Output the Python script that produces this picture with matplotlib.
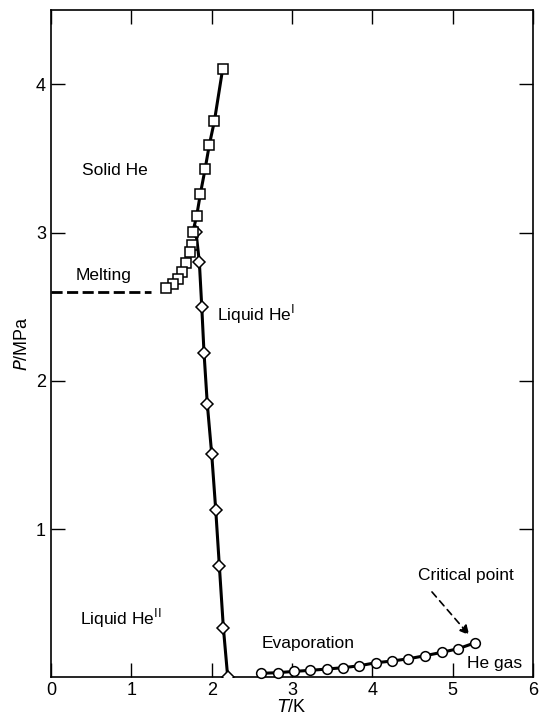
import matplotlib
matplotlib.use("Agg")
import matplotlib.pyplot as plt

plt.rcParams['font.family'] = ['Liberation Sans', 'DejaVu Sans']

# melting curve (squares), upper solid branch
melt_T = [2.138, 2.034, 1.971, 1.918, 1.859, 1.814, 1.765]
melt_P = [4.106, 3.751, 3.591, 3.427, 3.259, 3.113, 3.001]
# melting curve, lower branch (no line)
melt_low_T = [1.760, 1.731, 1.677, 1.635, 1.578, 1.523, 1.428]
melt_low_P = [2.913, 2.866, 2.796, 2.735, 2.686, 2.652, 2.623]
# dashed extrapolation of melting
dash_T = [0.0, 1.25]
dash_P = [2.6, 2.6]

# lambda line (diamonds)
lam_T = [1.806, 1.847, 1.877, 1.905, 1.946, 2.001, 2.051, 2.096, 2.146, 2.200]
lam_P = [3.001, 2.800, 2.499, 2.189, 1.843, 1.504, 1.128, 0.751, 0.334, 0.002]

# evaporation curve (circles)
evap_T = [2.62, 2.82, 3.03, 3.23, 3.44, 3.64, 3.84, 4.04, 4.25, 4.45, 4.66, 4.87, 5.07, 5.28]
evap_P = [0.027, 0.031, 0.040, 0.047, 0.056, 0.065, 0.078, 0.098, 0.110, 0.125,
          0.146, 0.169, 0.193, 0.233]

fig = plt.figure(figsize=(5.4, 7.24), dpi=100)
ax = fig.add_axes([0.0944, 0.0645, 0.8926, 0.9215])

ax.plot(dash_T, dash_P, color='black', lw=2, dashes=(4, 1.6))
ax.plot(lam_T, lam_P, color='black', lw=2.2, marker='D', ms=6,
        mfc='white', mec='black', mew=1.1, zorder=3)
ax.plot(melt_T, melt_P, color='black', lw=2.2, marker='s', ms=6.5,
        mfc='white', mec='black', mew=1.1, zorder=4)
ax.plot(melt_low_T, melt_low_P, ls='none', marker='s', ms=6.5,
        mfc='white', mec='black', mew=1.1, zorder=4)
ax.plot(evap_T, evap_P, color='black', lw=2.2, marker='o', ms=7,
        mfc='white', mec='black', mew=1.1, zorder=3, clip_on=False)

fs = 12.5
ax.text(0.80, 3.42, 'Solid He', fontsize=fs, ha='center', va='center')
ax.text(0.66, 2.71, 'Melting', fontsize=fs, ha='center', va='center')
ax.text(2.07, 2.45, 'Liquid He$^{\\mathrm{I}}$', fontsize=fs, ha='left', va='center')
ax.text(0.36, 0.40, 'Liquid He$^{\\mathrm{II}}$', fontsize=fs, ha='left', va='center')
ax.text(3.20, 0.23, 'Evaporation', fontsize=fs, ha='center', va='center')
ax.text(5.18, 0.09, 'He gas', fontsize=fs, ha='left', va='center')
ax.text(5.17, 0.69, 'Critical point', fontsize=fs, ha='center', va='center')
ax.annotate('', xy=(5.23, 0.27), xytext=(4.72, 0.59),
            arrowprops=dict(arrowstyle='-|>', color='black', lw=1.2,
                            linestyle=(0, (4, 3)), mutation_scale=14))

ax.set_xlim(0, 6)
ax.set_ylim(0, 4.5)
ax.set_xticks([0, 1, 2, 3, 4, 5, 6])
ax.set_yticks([1, 2, 3, 4])
ax.tick_params(direction='in', length=10, width=1, labelsize=13,
               top=True, right=True)
ax.set_xlabel('$T$/K', fontsize=13, labelpad=0)
ax.set_ylabel('$P$/MPa', fontsize=13, labelpad=4)
for s in ax.spines.values():
    s.set_linewidth(1.2)

fig.savefig('out.png', dpi=100)
